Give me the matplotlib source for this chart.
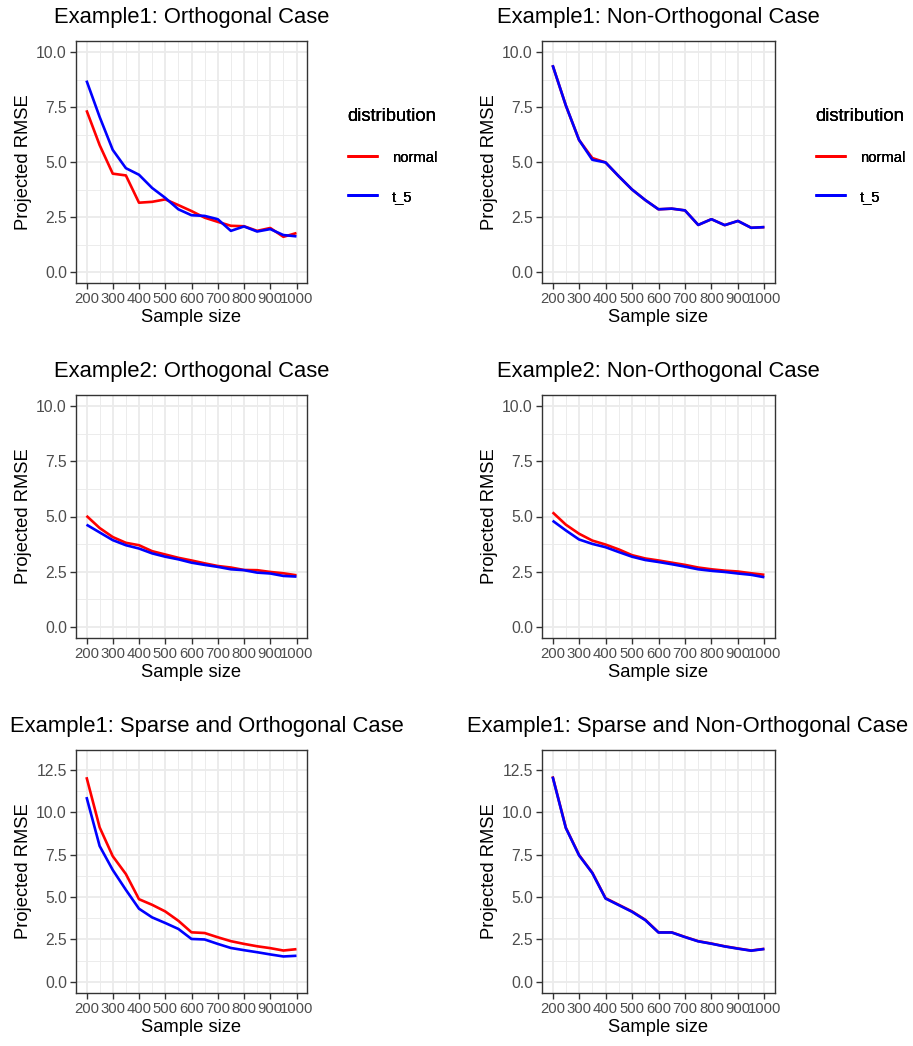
import matplotlib
matplotlib.use("Agg")
import matplotlib.pyplot as plt
from matplotlib.ticker import MultipleLocator

plt.rcParams['font.family'] = ['Liberation Sans', 'DejaVu Sans']

# ---------------- data ----------------
sample_size = [200, 250, 300, 350, 400, 450, 500, 550, 600, 650, 700, 750, 800, 850, 900, 950, 1000]

titles = ["Example1: Orthogonal Case", "Example1: Non-Orthogonal Case",
          "Example2: Orthogonal Case", "Example2: Non-Orthogonal Case",
          "Example1: Sparse and Orthogonal Case", "Example1: Sparse and Non-Orthogonal Case"]

ex1_orth_normal = [7.35, 5.77, 4.47, 4.39, 3.15, 3.19, 3.30, 3.04, 2.77, 2.47, 2.28, 2.10, 2.08, 1.87, 2.00, 1.60, 1.77]
ex1_orth_t5     = [8.70, 7.05, 5.55, 4.72, 4.42, 3.82, 3.37, 2.85, 2.58, 2.55, 2.40, 1.87, 2.07, 1.84, 1.95, 1.68, 1.62]

ex1_nonorth_normal = [9.40, 7.57, 6.00, 5.18, 4.98, 4.35, 3.75, 3.27, 2.85, 2.88, 2.80, 2.14, 2.40, 2.13, 2.32, 2.01, 2.04]
ex1_nonorth_t5     = [9.40, 7.57, 6.00, 5.10, 4.98, 4.35, 3.75, 3.27, 2.85, 2.88, 2.80, 2.14, 2.40, 2.13, 2.32, 2.01, 2.04]

ex2_orth_normal = [5.03, 4.48, 4.07, 3.81, 3.70, 3.43, 3.28, 3.13, 3.01, 2.88, 2.76, 2.69, 2.58, 2.57, 2.49, 2.43, 2.34]
ex2_orth_t5     = [4.63, 4.28, 3.93, 3.70, 3.55, 3.33, 3.18, 3.06, 2.91, 2.81, 2.72, 2.61, 2.57, 2.46, 2.42, 2.31, 2.28]

ex2_nonorth_normal = [5.19, 4.63, 4.22, 3.91, 3.73, 3.51, 3.25, 3.10, 3.01, 2.91, 2.81, 2.69, 2.61, 2.55, 2.51, 2.43, 2.36]
ex2_nonorth_t5     = [4.81, 4.37, 3.96, 3.76, 3.61, 3.39, 3.18, 3.03, 2.94, 2.84, 2.73, 2.61, 2.54, 2.49, 2.42, 2.36, 2.25]

sparse_orth_normal = [12.05, 9.10, 7.40, 6.35, 4.87, 4.54, 4.15, 3.60, 2.92, 2.88, 2.63, 2.40, 2.24, 2.10, 1.99, 1.85, 1.93]
sparse_orth_t5     = [10.88, 8.00, 6.59, 5.42, 4.31, 3.80, 3.47, 3.12, 2.53, 2.50, 2.24, 2.00, 1.87, 1.75, 1.62, 1.50, 1.54]

sparse_nonorth_normal = [12.10, 9.08, 7.47, 6.43, 4.93, 4.54, 4.15, 3.66, 2.92, 2.92, 2.65, 2.40, 2.26, 2.10, 1.97, 1.85, 1.95]
sparse_nonorth_t5     = [12.08, 9.06, 7.45, 6.41, 4.91, 4.52, 4.13, 3.64, 2.91, 2.91, 2.64, 2.39, 2.25, 2.09, 1.96, 1.84, 1.94]

series = [(ex1_orth_normal, ex1_orth_t5), (ex1_nonorth_normal, ex1_nonorth_t5),
          (ex2_orth_normal, ex2_orth_t5), (ex2_nonorth_normal, ex2_nonorth_t5),
          (sparse_orth_normal, sparse_orth_t5), (sparse_nonorth_normal, sparse_nonorth_t5)]

dist_labels = ["normal", "t_5"]
dist_colors = ["#FF0000", "#0000FF"]
x_ticks = [200, 300, 400, 500, 600, 700, 800, 900, 1000]

# ---------------- layout ----------------
W, H = 913, 1046
fig = plt.figure(figsize=(W / 100, H / 100), dpi=100)

col_lr = [(76, 307), (542, 775)]
row_tb = [(41, 283), (395, 638), (750, 993)]
cell_left = [0, 457]

grey20 = "#333333"
grey30 = "#4D4D4D"
grid_c = "#EBEBEB"

for i, (title, (normal, t5)) in enumerate(zip(titles, series)):
    r, c = divmod(i, 2)
    l, rr = col_lr[c]
    t, b = row_tb[r]
    ax = fig.add_axes([l / W, 1 - b / H, (rr - l) / W, (b - t) / H])

    for vals, lab, col in zip((normal, t5), dist_labels, dist_colors):
        ax.plot(sample_size, vals, color=col, lw=1.9, label=lab, solid_capstyle='butt')

    ax.set_xlim(160, 1040)
    if r < 2:
        ax.set_ylim(-0.5, 10.5)
    else:
        ax.set_ylim(-0.65, 13.65)
    ax.set_xticks(x_ticks)
    ax.set_xticklabels([str(v) for v in x_ticks])
    ax.xaxis.set_minor_locator(MultipleLocator(50))
    ax.yaxis.set_major_locator(MultipleLocator(2.5))
    ax.yaxis.set_minor_locator(MultipleLocator(1.25))
    ax.yaxis.set_major_formatter(matplotlib.ticker.FormatStrFormatter('%.1f'))

    ax.grid(which='major', color=grid_c, lw=1.3)
    ax.grid(which='minor', color=grid_c, lw=0.65)
    ax.set_axisbelow(True)
    for s in ax.spines.values():
        s.set_color(grey20)
        s.set_linewidth(1.0)
    ax.tick_params(which='major', length=4, width=1.0, color=grey20,
                   labelcolor=grey30, pad=2.5)
    ax.tick_params(axis='x', which='major', labelsize=10.7)
    ax.tick_params(axis='y', which='major', labelsize=11.3)
    ax.tick_params(which='minor', length=0)

    ax.set_xlabel("Sample size", fontsize=13.2, labelpad=2)
    ax.set_ylabel("Projected RMSE", fontsize=13.2, labelpad=3)

    # title
    if r < 2:
        fig.text(((l + rr) / 2) / W, 1 - (t - 18) / H, title, ha='center', va='baseline', fontsize=15.8)
    else:
        fig.text((cell_left[c] + 10) / W, 1 - (t - 18) / H, title, ha='left', va='baseline', fontsize=15.8)

    leg = ax.legend(loc='center left', bbox_to_anchor=(1 + 40 / (rr - l), (b - 156) / (b - t)),
                    frameon=False, title="distribution", title_fontsize=13.2, fontsize=10.6,
                    handlelength=2.1, handletextpad=0.95, labelspacing=1.7, borderpad=0,
                    borderaxespad=0, alignment='left')

fig.savefig("out.png", dpi=100, facecolor='white')
